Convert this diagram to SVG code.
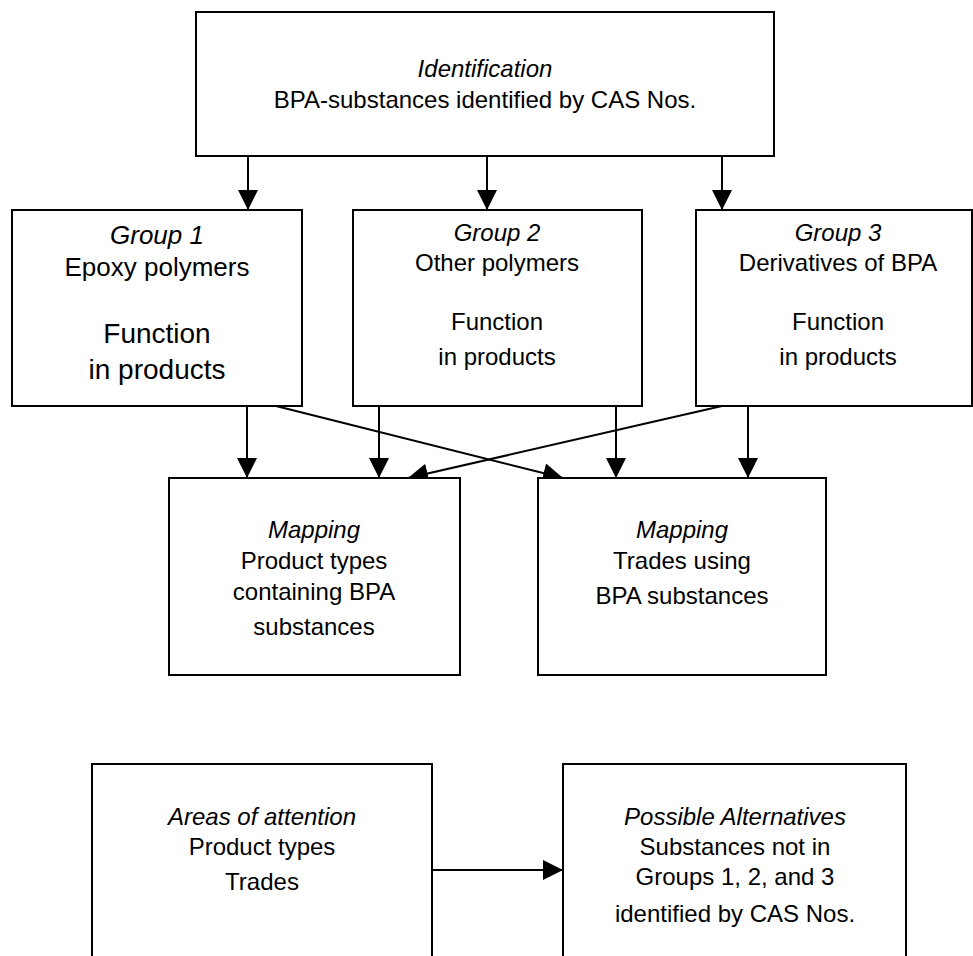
<svg xmlns="http://www.w3.org/2000/svg" width="973" height="956" viewBox="0 0 973 956">
<style>
.box{fill:#fff;stroke:#000;stroke-width:2}
.t{font-family:"Liberation Sans",Arial,sans-serif;font-size:24px;text-anchor:middle;fill:#000}
.i{font-style:italic}
.big{font-size:26px}
.big2{font-size:28px}
.c{stroke:#000;stroke-width:2;fill:none;marker-end:url(#ah)}
</style>
<defs>
<marker id="ah" markerUnits="userSpaceOnUse" markerWidth="20" markerHeight="20" refX="20" refY="10" orient="auto" viewBox="0 0 20 20">
<path d="M0,0 L20,10 L0,20 Z" fill="#000"/>
</marker>
</defs>
<rect x="0" y="0" width="973" height="956" fill="#fff"/>
<g id="connectors">
<line class="c" x1="248" y1="156" x2="248" y2="210"/>
<line class="c" x1="487" y1="156" x2="487" y2="210"/>
<line class="c" x1="722" y1="156" x2="722" y2="210"/>
<line class="c" x1="247" y1="406" x2="247" y2="478"/>
<line class="c" x1="379" y1="406" x2="379" y2="478"/>
<line class="c" x1="616" y1="406" x2="616" y2="478"/>
<line class="c" x1="748" y1="406" x2="748" y2="478"/>
<line class="c" x1="276" y1="406" x2="563" y2="478"/>
<line class="c" x1="722" y1="406" x2="408" y2="478"/>
<line class="c" x1="432" y1="870" x2="563" y2="870"/>
</g>
<g id="identification">
<rect class="box" x="196" y="12" width="578" height="144"/>
<text class="t i" x="485" y="77">Identification</text>
<text class="t" x="485" y="108">BPA-substances identified by CAS Nos.</text>
</g>
<g id="group1">
<rect class="box" x="12" y="210" width="290" height="196"/>
<text class="t i big" x="157" y="244">Group 1</text>
<text class="t big" x="157" y="276">Epoxy polymers</text>
<text class="t big2" x="157" y="343">Function</text>
<text class="t big2" x="157" y="379">in products</text>
</g>
<g id="group2">
<rect class="box" x="353" y="210" width="289" height="196"/>
<text class="t i" x="497" y="241">Group 2</text>
<text class="t" x="497" y="271">Other polymers</text>
<text class="t" x="497" y="330">Function</text>
<text class="t" x="497" y="365">in products</text>
</g>
<g id="group3">
<rect class="box" x="696" y="210" width="276" height="196"/>
<text class="t i" x="838" y="241">Group 3</text>
<text class="t" x="838" y="271">Derivatives of BPA</text>
<text class="t" x="838" y="330">Function</text>
<text class="t" x="838" y="365">in products</text>
</g>
<g id="mapping-products">
<rect class="box" x="169" y="478" width="291" height="197"/>
<text class="t i" x="314" y="538">Mapping</text>
<text class="t" x="314" y="569">Product types</text>
<text class="t" x="314" y="600">containing BPA</text>
<text class="t" x="314" y="635">substances</text>
</g>
<g id="mapping-trades">
<rect class="box" x="538" y="478" width="288" height="197"/>
<text class="t i" x="682" y="538">Mapping</text>
<text class="t" x="682" y="569">Trades using</text>
<text class="t" x="682" y="604">BPA substances</text>
</g>
<g id="areas">
<rect class="box" x="92" y="764" width="340" height="210"/>
<text class="t i" x="262" y="825">Areas of attention</text>
<text class="t" x="262" y="855">Product types</text>
<text class="t" x="262" y="890">Trades</text>
</g>
<g id="alternatives">
<rect class="box" x="563" y="764" width="343" height="210"/>
<text class="t i" x="735" y="825">Possible Alternatives</text>
<text class="t" x="735" y="855">Substances not in</text>
<text class="t" x="735" y="885">Groups 1, 2, and 3</text>
<text class="t" x="735" y="922">identified by CAS Nos.</text>
</g>
</svg>
